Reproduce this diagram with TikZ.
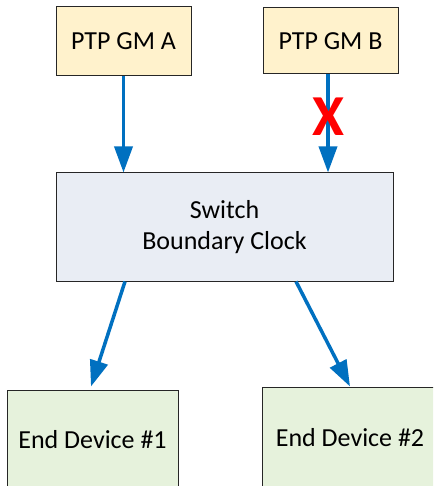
\documentclass[tikz,border=0pt]{standalone}
\usepackage{fontspec}
\setmainfont{Carlito}
\usetikzlibrary{arrows.meta}
\definecolor{gmfill}{HTML}{FFF2CC}
\definecolor{swfill}{HTML}{E9EDF4}
\definecolor{edfill}{HTML}{E6F2DC}
\definecolor{linkblue}{HTML}{0070C0}
\definecolor{boxline}{HTML}{262626}
\tikzset{
  box/.style={draw=boxline, line width=1pt, rectangle, inner sep=0pt, align=center,
    font=\fontsize{26}{31.5}\selectfont},
  link/.style={draw=linkblue, line width=3.5pt,
    -{Triangle[length=26pt,width=18pt]}},
}
\begin{document}
\begin{tikzpicture}[x=1pt, y=-1pt]
  \clip (0,0) rectangle (433,486);
  \fill[white] (0,0) rectangle (433,486);

  % grandmasters
  \node[box, fill=gmfill, minimum width=135pt, minimum height=69pt] (gmA) at (123.5,41.5) {PTP GM A};
  \node[box, fill=gmfill, minimum width=135pt, minimum height=66pt] (gmB) at (330.5,41) {PTP GM B};

  % switch acting as boundary clock
  \node[box, fill=swfill, minimum width=337pt, minimum height=108pt] (sw) at (224.5,227) {Switch\\Boundary Clock};

  % end devices
  \node[box, fill=edfill, minimum width=171pt, minimum height=100pt] (ed1) at (92.5,440) {End Device \#1};
  \node[box, fill=edfill, minimum width=176pt, minimum height=102pt] (ed2) at (350,438) {End Device \#2};

  % sync links
  \draw[link] (gmA.south) -- (gmA.south |- sw.north);
  \coordinate (bOut) at ([xshift=-2.5pt]gmB.south);
  \draw[link] (bOut) -- (bOut |- sw.north);
  \draw[link] ([xshift=-99.5pt]sw.south) -- ([xshift=-1.5pt,yshift=3pt]ed1.north);
  \draw[link] ([xshift=71.5pt]sw.south) -- (ed2.north);

  % blocked link marker
  \node[text=red, font=\fontsize{58}{58}\selectfont\bfseries, inner sep=0pt] (block) at (328.5,117) {X};
\end{tikzpicture}
\end{document}
